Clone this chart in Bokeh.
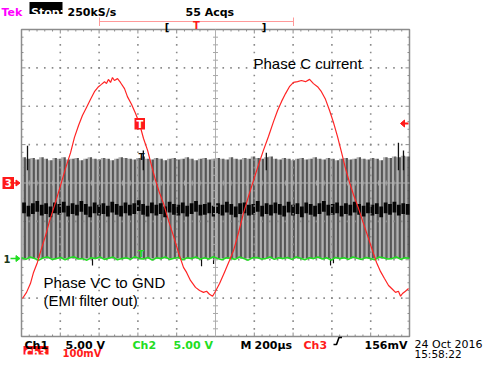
from bokeh.plotting import figure
from bokeh.models import Range1d, Label
from bokeh.embed import file_html
from bokeh.resources import INLINE

# ---------------- data ----------------
# Ch3: phase C current probe, time in us from the left graticule edge, value in mV
ch3_t = [5, 26, 46, 62, 82, 103, 124, 144, 170, 201, 227, 253, 273, 294, 314, 335, 356, 376,
         397, 412, 428, 438, 448, 459, 469, 479, 495, 510, 531, 546, 567, 588, 608, 629, 650,
         670, 691, 711, 732, 758, 784, 809, 835, 851, 871, 897, 918, 938, 954, 969, 985, 1000,
         1021, 1046, 1072, 1093, 1119, 1144, 1170, 1196, 1222, 1247, 1273, 1299, 1320, 1340,
         1361, 1381, 1402, 1423, 1443, 1464, 1485, 1505, 1526, 1546, 1567, 1588, 1608, 1629,
         1650, 1670, 1691, 1711, 1737, 1763, 1789, 1809, 1830, 1851, 1871, 1892, 1912, 1928,
         1943, 1954, 1964, 1979, 1995]
ch3_mv = [-301, -285, -262, -233, -207, -171, -137, -100, -59, -7, 38, 79, 119, 150, 176, 197,
          218, 238, 251, 257, 264, 259, 270, 262, 275, 267, 272, 262, 246, 225, 205, 181, 155,
          116, 85, 46, 7, -25, -53, -98, -139, -181, -220, -233, -254, -272, -280, -285, -282,
          -290, -295, -282, -262, -233, -202, -176, -129, -79, -35, 7, 48, 85, 121, 160, 189,
          212, 233, 251, 262, 264, 267, 264, 270, 259, 251, 238, 218, 189, 158, 121, 79, 38, 1,
          -30, -66, -106, -145, -176, -207, -231, -249, -267, -277, -285, -282, -295, -288,
          -282, -275]

# Ch1: PWM phase voltage VC to GND, per carrier column: high level and dark mid band (V)
ch1_high_v = [13.2, 13.0, 13.1, 12.9, 13.2, 13.0, 12.8, 13.1, 13.0, 13.2,
              12.9, 13.0, 13.1, 12.8, 13.0, 13.2, 13.0, 12.9, 13.1, 13.0,
              12.8, 13.0, 13.2, 13.1, 13.0, 12.9, 13.1, 13.3, 13.0, 12.9,
              13.1, 13.0, 12.8, 13.0, 13.1, 12.9, 13.0, 13.2, 13.0, 12.8,
              13.0, 13.1, 12.9, 13.0, 13.1, 13.0, 12.9, 13.2, 13.0, 12.9,
              13.1, 13.0, 13.3, 13.1, 13.0, 13.2, 13.3, 13.0, 12.9, 13.1,
              13.0, 12.8, 13.0, 13.1, 12.9, 13.0, 13.2, 13.0, 12.9, 13.1,
              13.0, 12.8, 13.0, 13.1, 12.9, 13.0, 13.2, 13.0, 12.9, 13.1,
              13.0, 12.8, 13.2, 13.1, 13.3, 13.2, 13.4, 13.3]
ch1_mid_v = [6.6, 6.2, 6.5, 6.8, 6.3, 6.5, 6.1, 6.6, 6.4, 6.7,
             6.2, 6.5, 6.3, 6.8, 6.4, 6.1, 6.6, 6.3, 6.5, 6.2,
             6.7, 6.4, 6.2, 6.6, 6.3, 6.5, 6.9, 6.4, 6.2, 6.6,
             6.3, 6.5, 6.1, 6.7, 6.4, 6.3, 6.6, 6.2, 6.5, 6.8,
             6.3, 6.4, 6.6, 6.2, 6.5, 6.3, 6.7, 6.4, 6.1, 6.5,
             6.6, 6.3, 6.4, 6.8, 6.2, 6.5, 6.3, 6.6, 6.4, 6.2,
             6.7, 6.3, 6.5, 6.1, 6.6, 6.4, 6.2, 6.5, 6.8, 6.3,
             6.4, 6.6, 6.2, 6.5, 6.3, 6.7, 6.4, 6.2, 6.6, 6.3,
             6.5, 6.1, 6.6, 6.4, 6.7, 6.3, 6.5, 6.4]
ch1_spike_t = [31, 628, 1262, 1943, 1969]
ch1_spike_v = [14.7, 14.1, 13.8, 15.1, 14.1]
ch1_under_t = [366, 928, 990, 1593, 1608]
ch1_under_v = [-0.9, -1.0, -0.7, -0.9, -0.6]

# Ch2: trace sitting on ground (V)
ch2_v = [0.1, -0.1, 0.2, 0.0, -0.2, 0.1, 0.2, -0.1, 0.0, 0.15,
         -0.15, 0.1, 0.25, -0.05, 0.0, -0.2, 0.1, 0.0, 0.2, -0.1,
         0.05, 0.2, -0.15, 0.0, 0.1, -0.1, 0.25, 0.0, -0.05, 0.15,
         -0.2, 0.1, 0.0, 0.2, -0.1, 0.05, 0.15, -0.15, 0.1, 0.0,
         0.2, -0.1, 0.1, -0.05, 0.25, 0.0, -0.15, 0.1, 0.05, -0.1,
         0.2, 0.0, -0.2, 0.1, 0.15, -0.05, 0.0, 0.2, -0.1, 0.1,
         0.0, 0.15, -0.1, 0.2, 0.05, -0.15, 0.1, 0.0, 0.2, -0.05,
         0.1, -0.2, 0.15, 0.0, 0.1, -0.1, 0.2, 0.05, -0.1, 0.15,
         0.0, -0.15, 0.2, 0.1, -0.05, 0.0, 0.2, -0.1, 0.1, 0.05]

# scope settings
US_PER_DIV = 200.0
CH1_V_PER_DIV = 5.0
CH2_V_PER_DIV = 5.0
CH3_MV_PER_DIV = 100.0
CH1_OFFSET = -1.97
CH2_OFFSET = -1.97
CH3_OFFSET = 0.0

# ---------------- geometry ----------------
W, H = 484, 358
ORIGIN = 0
GX0, GX1, GY0, GY1 = 21.0, 409.0, 29.0, 336.0
PXD = (GX1 - GX0) / 10.0
PYD = (GY1 - GY0) / 8.0
GYC = (GY0 + GY1) / 2.0


def rx(x):
    return (x - GX0) / PXD


def ry(y):
    return (GYC - y) / PYD


p = figure(width=W, height=H, x_range=Range1d(rx(ORIGIN), rx(ORIGIN + W)),
           y_range=Range1d(ry(ORIGIN + H), ry(ORIGIN)), output_backend="svg",
           toolbar_location=None, x_axis_type=None, y_axis_type=None,
           min_border=0, min_border_left=0, min_border_right=0, min_border_top=0,
           min_border_bottom=0, outline_line_color=None,
           background_fill_color="white", border_fill_color="white")

GRAT = "#8c8c8c"

# outer frame and edge ticks
p.quad(left=[0], right=[10], bottom=[-4], top=[4], fill_color=None,
       line_color=GRAT, line_width=1.5)
ex0, ey0, ex1, ey1 = [], [], [], []
for i in range(51):
    x = i * 0.2
    ln = (4.0 if i % 5 == 0 else 2.0) / PYD
    ex0 += [x, x]; ex1 += [x, x]
    ey0 += [4, -4]; ey1 += [4 - ln, -4 + ln]
for j in range(41):
    y = -4 + j * 0.2
    ln = (4.0 if j % 5 == 0 else 2.0) / PXD
    ex0 += [0, 10]; ex1 += [ln, 10 - ln]
    ey0 += [y, y]; ey1 += [y, y]
p.segment(x0=ex0, y0=ey0, x1=ex1, y1=ey1, line_color=GRAT, line_width=1)

# ---------------- Ch1 PWM ----------------
N = len(ch1_high_v)
pd = 10.0 / N
lefts = [k * pd for k in range(N)]
low = CH1_OFFSET
tops = [h / CH1_V_PER_DIV + CH1_OFFSET for h in ch1_high_v]
p.quad(left=lefts, right=[l + 0.5 * pd for l in lefts], bottom=low, top=tops,
       fill_color="#b0b0b0", line_color=None)
p.quad(left=[l + 0.5 * pd for l in lefts], right=[l + 0.86 * pd for l in lefts],
       bottom=low, top=tops, fill_color="#555555", line_color=None)
p.quad(left=[l + 0.86 * pd for l in lefts], right=[l + pd for l in lefts],
       bottom=low, top=tops, fill_color="#181818", line_color=None)
mids = [m / CH1_V_PER_DIV + CH1_OFFSET for m in ch1_mid_v]
band = 0.7 / CH1_V_PER_DIV
p.quad(left=[l + 0.15 * pd for l in lefts], right=[l + pd for l in lefts],
       bottom=[m - band for m in mids], top=[m + band for m in mids],
       fill_color="#050505", line_color=None)
sx = [t / US_PER_DIV for t in ch1_spike_t]
p.segment(x0=sx, y0=[CH1_OFFSET + 2.3] * len(sx), x1=sx,
          y1=[v / CH1_V_PER_DIV + CH1_OFFSET for v in ch1_spike_v],
          line_color="#101010", line_width=1.3)
ux = [t / US_PER_DIV for t in ch1_under_t]
p.segment(x0=ux, y0=[CH1_OFFSET] * len(ux), x1=ux,
          y1=[v / CH1_V_PER_DIV + CH1_OFFSET for v in ch1_under_v],
          line_color="#101010", line_width=1.2)

# ---------------- dotted grid and centre lines ----------------
dx, dy = [], []
for gx in range(1, 10):
    if gx == 5:
        continue
    for j in range(1, 40):
        dx.append(gx); dy.append(-4 + j * 0.2)
for gy in range(-3, 4):
    if gy == 0:
        continue
    for i in range(1, 50):
        dx.append(i * 0.2); dy.append(gy)
p.scatter(dx, dy, marker="square", size=1.6, fill_color="#8a8a8a", line_color=None)

p.segment(x0=[5, 0], y0=[-4, 0], x1=[5, 10], y1=[4, 0], line_color="#b0b0b0", line_width=1)
cx0, cy0, cx1, cy1 = [], [], [], []
for j in range(1, 40):
    y = -4 + j * 0.2
    cx0.append(5 - 2.5 / PXD); cx1.append(5 + 2.5 / PXD); cy0.append(y); cy1.append(y)
for i in range(1, 50):
    x = i * 0.2
    cx0.append(x); cx1.append(x); cy0.append(-2.5 / PYD); cy1.append(2.5 / PYD)
p.segment(x0=cx0, y0=cy0, x1=cx1, y1=cy1, line_color="#a8a8a8", line_width=1)

# ---------------- Ch2 (green) ----------------
M = len(ch2_v)
p.line([10.0 * k / (M - 1) for k in range(M)],
       [v / CH2_V_PER_DIV + CH2_OFFSET for v in ch2_v],
       line_color="#22dd22", line_width=1.6)

# ---------------- Ch3 (red) ----------------
p.line([t / US_PER_DIV for t in ch3_t], [m / CH3_MV_PER_DIV + CH3_OFFSET for m in ch3_mv],
       line_color="#ff2424", line_width=1.2)

RED = "#ff1a1a"
GREEN = "#22dd22"


def lab(x, y, text, color="black", size="11px", font="DejaVu Sans", style="bold",
        align="left", base="alphabetic"):
    p.add_layout(Label(x=rx(x), y=ry(y), text=text, text_color=color,
                       text_font_size=size, text_font=font, text_font_style=style,
                       text_align=align, text_baseline=base))


def box(x0, x1, y0, y1, color):
    p.quad(left=[rx(x0)], right=[rx(x1)], bottom=[ry(y1)], top=[ry(y0)],
           fill_color=color, line_color=None)


# ---------------- markers ----------------
# Ch3 ground marker
box(2, 13.5, 176.5, 188.5, RED)
lab(7.8, 182.8, "3", color="white", size="10px", align="center", base="middle")
p.segment(x0=[rx(13.5)], y0=[ry(182.5)], x1=[rx(18)], y1=[ry(182.5)], line_color=RED, line_width=1.5)
p.patch([rx(15.5), rx(19.5), rx(15.5)], [ry(179.5), ry(182.5), ry(185.5)], color=RED)
# Ch1/Ch2 ground marker
lab(6.5, 258.5, "1", color="#1a3a1a", size="10px", align="center", base="middle")
p.segment(x0=[rx(10)], y0=[ry(258)], x1=[rx(18)], y1=[ry(258)], line_color=GREEN, line_width=1.5)
p.patch([rx(15.5), rx(19.5), rx(15.5)], [ry(255), ry(258), ry(261)], color=GREEN)
# trigger level arrow (right)
p.patch([rx(400), rx(404), rx(404)], [ry(123), ry(119.5), ry(126.5)], color=RED)
p.segment(x0=[rx(403)], y0=[ry(123)], x1=[rx(408)], y1=[ry(123)], line_color=RED, line_width=2)
# trigger point marker on Ch3
box(134, 144.5, 117.5, 129, RED)
lab(139.3, 123.5, "T", color="white", size="10px", align="center", base="middle")
lab(141, 156.5, "T", color="#111111", size="9px", align="center", base="middle")
lab(140.5, 253.5, "T", color=GREEN, size="9px", align="center", base="middle")

# trigger position bar (top)
p.segment(x0=[rx(99)], y0=[ry(21)], x1=[rx(293)], y1=[ry(21)], line_color="#ff9a9a", line_width=1)
p.segment(x0=[rx(99), rx(293)], y0=[ry(17), ry(17)], x1=[rx(99), rx(293)], y1=[ry(25.5), ry(25.5)],
          line_color="#ff9a9a", line_width=1)
lab(166.5, 26.5, "[", size="10px", align="center")
lab(263.5, 26.5, "]", size="10px", align="center")
lab(196, 25, "T", color=RED, size="10px", align="center")

# ---------------- header ----------------
lab(1, 12, "Tek", color="#ff00ff", size="11px")
box(29, 62, 1.5, 13.5, "black")
lab(30.5, 12, "Stop:", color="white", size="11px")
lab(67, 12, "250kS/s", size="11px")
lab(185, 12, "55 Acqs", size="11px")

# ---------------- footer ----------------
lab(24, 345, "Ch1")
lab(65, 345, "5.00 V")
lab(132, 345, "Ch2", color=GREEN)
lab(173, 345, "5.00 V", color=GREEN)
lab(240, 345, "M")
lab(254, 345, "200\u00b5s")
lab(303, 345, "Ch3", color=RED)
p.line([rx(333), rx(336), rx(338.5), rx(341.5)], [ry(344), ry(344), ry(337), ry(337)],
       line_color="black", line_width=1.6)
lab(364, 345, "156mV")
box(23, 48, 345.5, 354, RED)
lab(24.5, 352.5, "Ch3", color="white", size="10px")
lab(62, 352.5, "100mV", color=RED, size="10px")
lab(414, 343.5, "24 Oct 2016", size="11px", style="normal")
lab(414, 353, "15:58:22", size="10.5px", style="normal")

# ---------------- annotations ----------------
lab(253, 63, "Phase C current", size="15px", font="Liberation Sans", style="normal")
lab(43, 282, "Phase VC to GND", size="15px", font="Liberation Sans", style="normal")
lab(43, 300, "(EMI filter out)", size="15px", font="Liberation Sans", style="normal")

open("out.html", "w").write(file_html(p, INLINE))
